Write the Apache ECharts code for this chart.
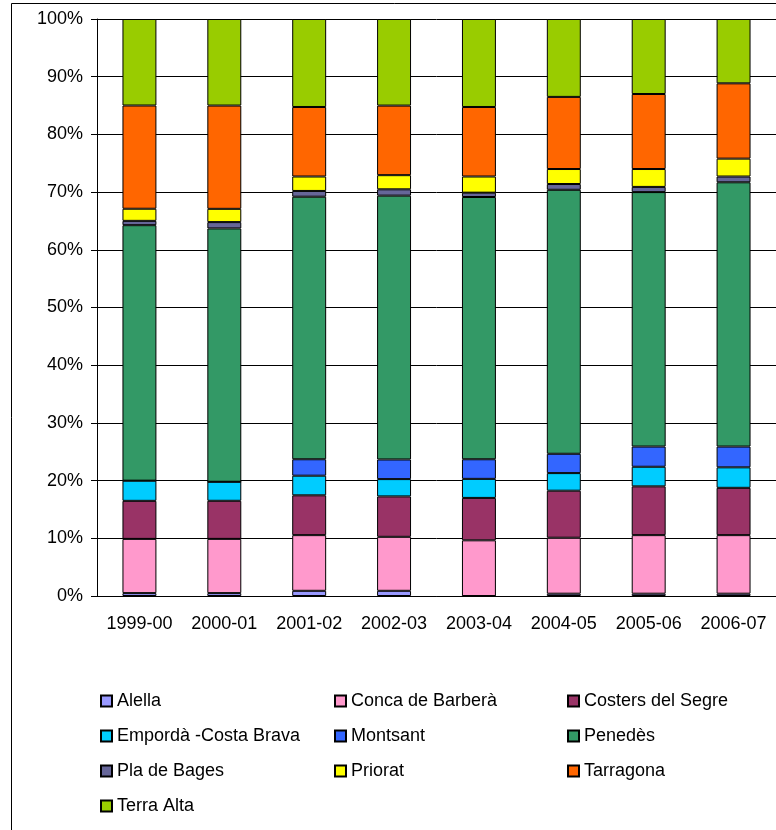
<!DOCTYPE html>
<html>
<head>
<meta charset="utf-8">
<title>DO Catalunya</title>
<script src="https://cdn.jsdelivr.net/npm/echarts@6/dist/echarts.min.js"></script>
<style>
  html, body { margin: 0; padding: 0; background: #fff; }
  #chart { width: 776px; height: 830px; }
</style>
</head>
<body>
<div id="chart"></div>
<script>
// campanyes
const categories = ['1999-00', '2000-01', '2001-02', '2002-03', '2003-04', '2004-05', '2005-06', '2006-07']

// parts de cada DO (llegides del gràfic, en %)
const alella = [0.5, 0.5, 0.9, 0.9, 0, 0.4, 0.4, 0.4]
const concaBarbera = [9.4, 9.4, 9.65, 9.35, 9.65, 9.7, 10.15, 10.15]
const costersSegre = [6.6, 6.6, 6.9, 7.0, 7.35, 8.15, 8.45, 8.2]
const emporda = [3.5, 3.3, 3.4, 3.0, 3.3, 3.05, 3.4, 3.55]
const montsant = [0, 0, 2.85, 3.4, 3.4, 3.35, 3.5, 3.6]
const penedes = [44.3, 43.9, 45.5, 45.7, 45.45, 45.75, 44.1, 45.8]
const plaBages = [0.75, 1.1, 1.0, 1.1, 0.75, 1.0, 0.9, 1.0]
const priorat = [2.1, 2.3, 2.5, 2.45, 2.8, 2.6, 3.1, 3.1]
const tarragona = [17.9, 17.9, 12.05, 12.05, 12.05, 12.5, 13.0, 13.05]
const terraAlta = [15.0, 15.0, 15.25, 15.0, 15.25, 13.5, 13.0, 11.15]

const yTicks = [0, 10, 20, 30, 40, 50, 60, 70, 80, 90, 100]

const seriesList = [
  { name: 'Alella', data: alella, color: '#9999FF' },
  { name: 'Conca de Barberà', data: concaBarbera, color: '#FF99CC' },
  { name: 'Costers del Segre', data: costersSegre, color: '#993366' },
  { name: 'Empordà -Costa Brava', data: emporda, color: '#00CCFF' },
  { name: 'Montsant', data: montsant, color: '#3366FF' },
  { name: 'Penedès', data: penedes, color: '#339966' },
  { name: 'Pla de Bages', data: plaBages, color: '#666699' },
  { name: 'Priorat', data: priorat, color: '#FFFF00' },
  { name: 'Tarragona', data: tarragona, color: '#FF6600' },
  { name: 'Terra Alta', data: terraAlta, color: '#99CC00' }
]

// 100% apilat: cada campanya suma 100
const totals = categories.map((c, i) => seriesList.reduce((s, d) => s + d.data[i], 0))

const font = "'Liberation Sans', Arial, sans-serif"
const legendText = { fontFamily: font, fontSize: 18, color: '#000', lineHeight: 20 }

function legendColumn(names, left) {
  return {
    orient: 'vertical',
    left: left,
    top: 686,
    itemWidth: 11,
    itemHeight: 11,
    itemGap: 15,
    icon: 'rect',
    selectedMode: false,
    textStyle: legendText,
    data: names
  }
}

const myChart = echarts.init(document.getElementById('chart'))
myChart.setOption({
  animation: false,
  backgroundColor: '#fff',
  grid: {
    left: 97,
    top: 19,
    width: 684,
    height: 577
  },
  graphic: [
    {
      // marc exterior
      type: 'rect',
      shape: { x: 11.5, y: 3.5, width: 800, height: 840 },
      style: { fill: null, stroke: '#000', lineWidth: 1 },
      silent: true
    }
  ],
  legend: [
    legendColumn(['Alella', 'Empordà -Costa Brava', 'Pla de Bages', 'Terra Alta'], 95),
    legendColumn(['Conca de Barberà', 'Montsant', 'Priorat'], 329),
    legendColumn(['Costers del Segre', 'Penedès', 'Tarragona'], 562)
  ],
  xAxis: {
    type: 'category',
    data: categories,
    axisLine: { lineStyle: { color: '#000', width: 1 } },
    axisTick: { length: 6, lineStyle: { color: '#000' } },
    axisLabel: { fontFamily: font, fontSize: 18, color: '#000', margin: 19, interval: 0, hideOverlap: false }
  },
  yAxis: {
    type: 'value',
    min: yTicks[0],
    max: yTicks[yTicks.length - 1],
    interval: 10,
    axisLine: { show: true, lineStyle: { color: '#000', width: 1 } },
    axisTick: { show: true, length: 6, lineStyle: { color: '#000' } },
    axisLabel: { fontFamily: font, fontSize: 18, color: '#000', margin: 14, formatter: '{value}%' },
    splitLine: { lineStyle: { color: '#000', width: 1 } }
  },
  series: seriesList.map(s => ({
    name: s.name,
    type: 'bar',
    stack: 'total',
    barWidth: '40%',
    data: s.data.map((v, i) => v / totals[i] * 100),
    itemStyle: { color: s.color, borderColor: '#000', borderWidth: 1 }
  }))
})
</script>
</body>
</html>
